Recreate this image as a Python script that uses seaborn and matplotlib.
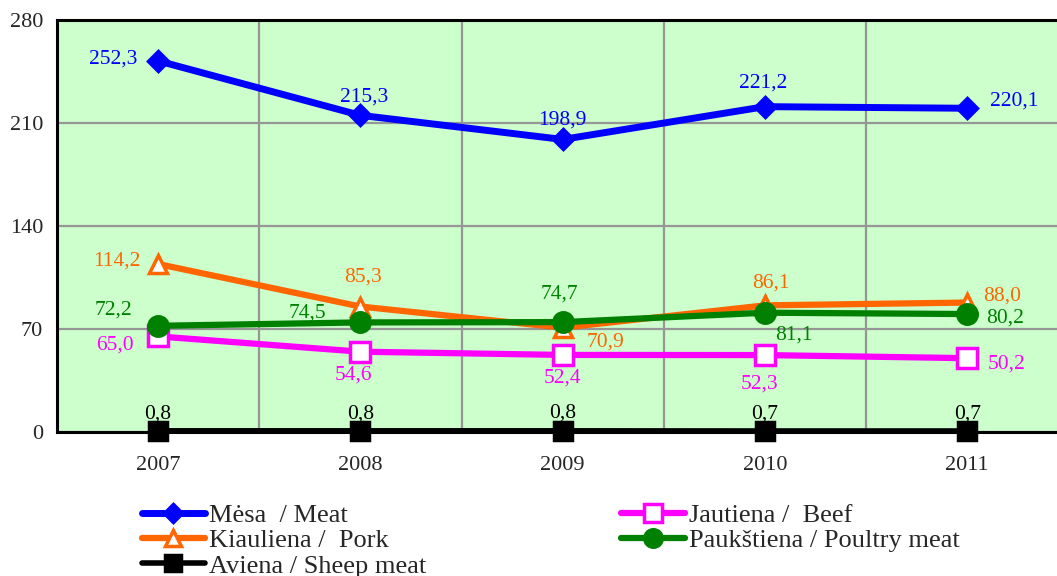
import numpy as np
import pandas as pd
import matplotlib
matplotlib.use("Agg")
import matplotlib.pyplot as plt
import seaborn as sns

# data
years = ['2007', '2008', '2009', '2010', '2011']
meat = [252.3, 215.3, 198.9, 221.2, 220.1]
beef = [65.0, 54.6, 52.4, 52.3, 50.2]
pork = [114.2, 85.3, 70.9, 86.1, 88.0]
poultry = [72.2, 74.5, 74.7, 81.1, 80.2]
sheep = [0.8, 0.8, 0.8, 0.7, 0.7]

labels = ['Mėsa  / Meat', 'Jautiena /  Beef', 'Kiauliena /  Pork',
          'Paukštiena / Poultry meat', 'Aviena / Sheep meat']

sns.set_style("white")
plt.rcParams['font.family'] = ['Liberation Serif', 'DejaVu Serif']

fig = plt.figure(figsize=(10.57, 5.76), dpi=100)
ax = fig.add_axes([0.0539, 0.25, 0.9461, 0.715])
ax.set_facecolor('#CCFFCC')

x = np.arange(len(years))

# series styles: color, marker, markersize, facecolor, linewidth
styles = {
    'meat': ('#0000FF', 'D', 10, '#0000FF', 5),
    'beef': ('#FF00FF', 's', 14, 'white', 4.5),
    'pork': ('#FF6600', '^', 13, 'white', 4.5),
    'poultry': ('#008000', 'o', 14, '#008000', 4.5),
    'sheep': ('#000000', 's', 13, '#000000', 4),
}
series = {'meat': meat, 'beef': beef, 'pork': pork, 'poultry': poultry, 'sheep': sheep}

handles = {}
for (key, vals), lab in zip(series.items(), labels):
    c, m, ms, fc, lw = styles[key]
    sns.lineplot(x=x, y=vals, ax=ax, color=c, marker=m, markersize=ms,
                 markerfacecolor=fc, markeredgecolor=c, markeredgewidth=2.5,
                 linewidth=lw, label=lab, legend=False, zorder=3, clip_on=False)
    handles[key] = ax.lines[-1]

# value labels (offsets in points)
offsets = {
    'meat': [(-32, 1), (3, 13), (0, 14), (-1, 17), (34, 5)],
    'beef': [(-31, -6), (-5, -17), (0, -17), (-4, -21), (28, -4)],
    'pork': [(-30, 2), (2, 21), (31, -10), (4, 16), (25, 5)],
    'poultry': [(-32, 11), (-38, 7), (-2, 20), (21, -16), (27, -3)],
    'sheep': [(0, 12), (0, 12), (0, 13), (0, 12), (0, 12)],
}
for key, vals in series.items():
    c = styles[key][0]
    for i, v in enumerate(vals):
        ax.annotate(f"{v:.1f}".replace('.', ','), (x[i], v), xytext=offsets[key][i],
                    textcoords='offset points', ha='center', va='center',
                    color=c, fontsize=15.5, zorder=5)

ax.set_xlim(-0.5, 4.444)
ax.set_ylim(0, 280)
ax.set_yticks([0, 70, 140, 210, 280])
ax.set_xticks(x)
ax.set_xticklabels(years)
ax.set_xticks(np.arange(-0.5, 4.5, 1), minor=True)
ax.tick_params(axis='x', which='major', length=0, pad=17, labelsize=16)
ax.tick_params(axis='x', which='minor', length=7, width=2, direction='out', color='black')
ax.tick_params(axis='y', length=7, width=2, direction='out', color='black', labelsize=16, pad=3)
ax.grid(False)
ax.yaxis.grid(True, color='#969696', linewidth=1.6)
ax.xaxis.grid(True, which='minor', color='#969696', linewidth=1.6)
ax.set_axisbelow(True)

for s in ['left', 'bottom', 'top']:
    ax.spines[s].set_color('black')
    ax.spines[s].set_linewidth(2.2)
ax.spines['right'].set_visible(False)
ax.spines['bottom'].set_zorder(2)

order = ['meat', 'pork', 'sheep', 'beef', 'poultry']
fig.legend([handles[k] for k in order],
           [labels[list(series).index(k)] for k in order],
           ncol=2, loc='upper left', bbox_to_anchor=(0.134, 0.126),
           frameon=False, fontsize=19, handlelength=2.4, handletextpad=0.15,
           labelspacing=0.07, columnspacing=7.4, borderpad=0, borderaxespad=0,
           markerscale=0.9)

fig.savefig('out.png', dpi=100)
